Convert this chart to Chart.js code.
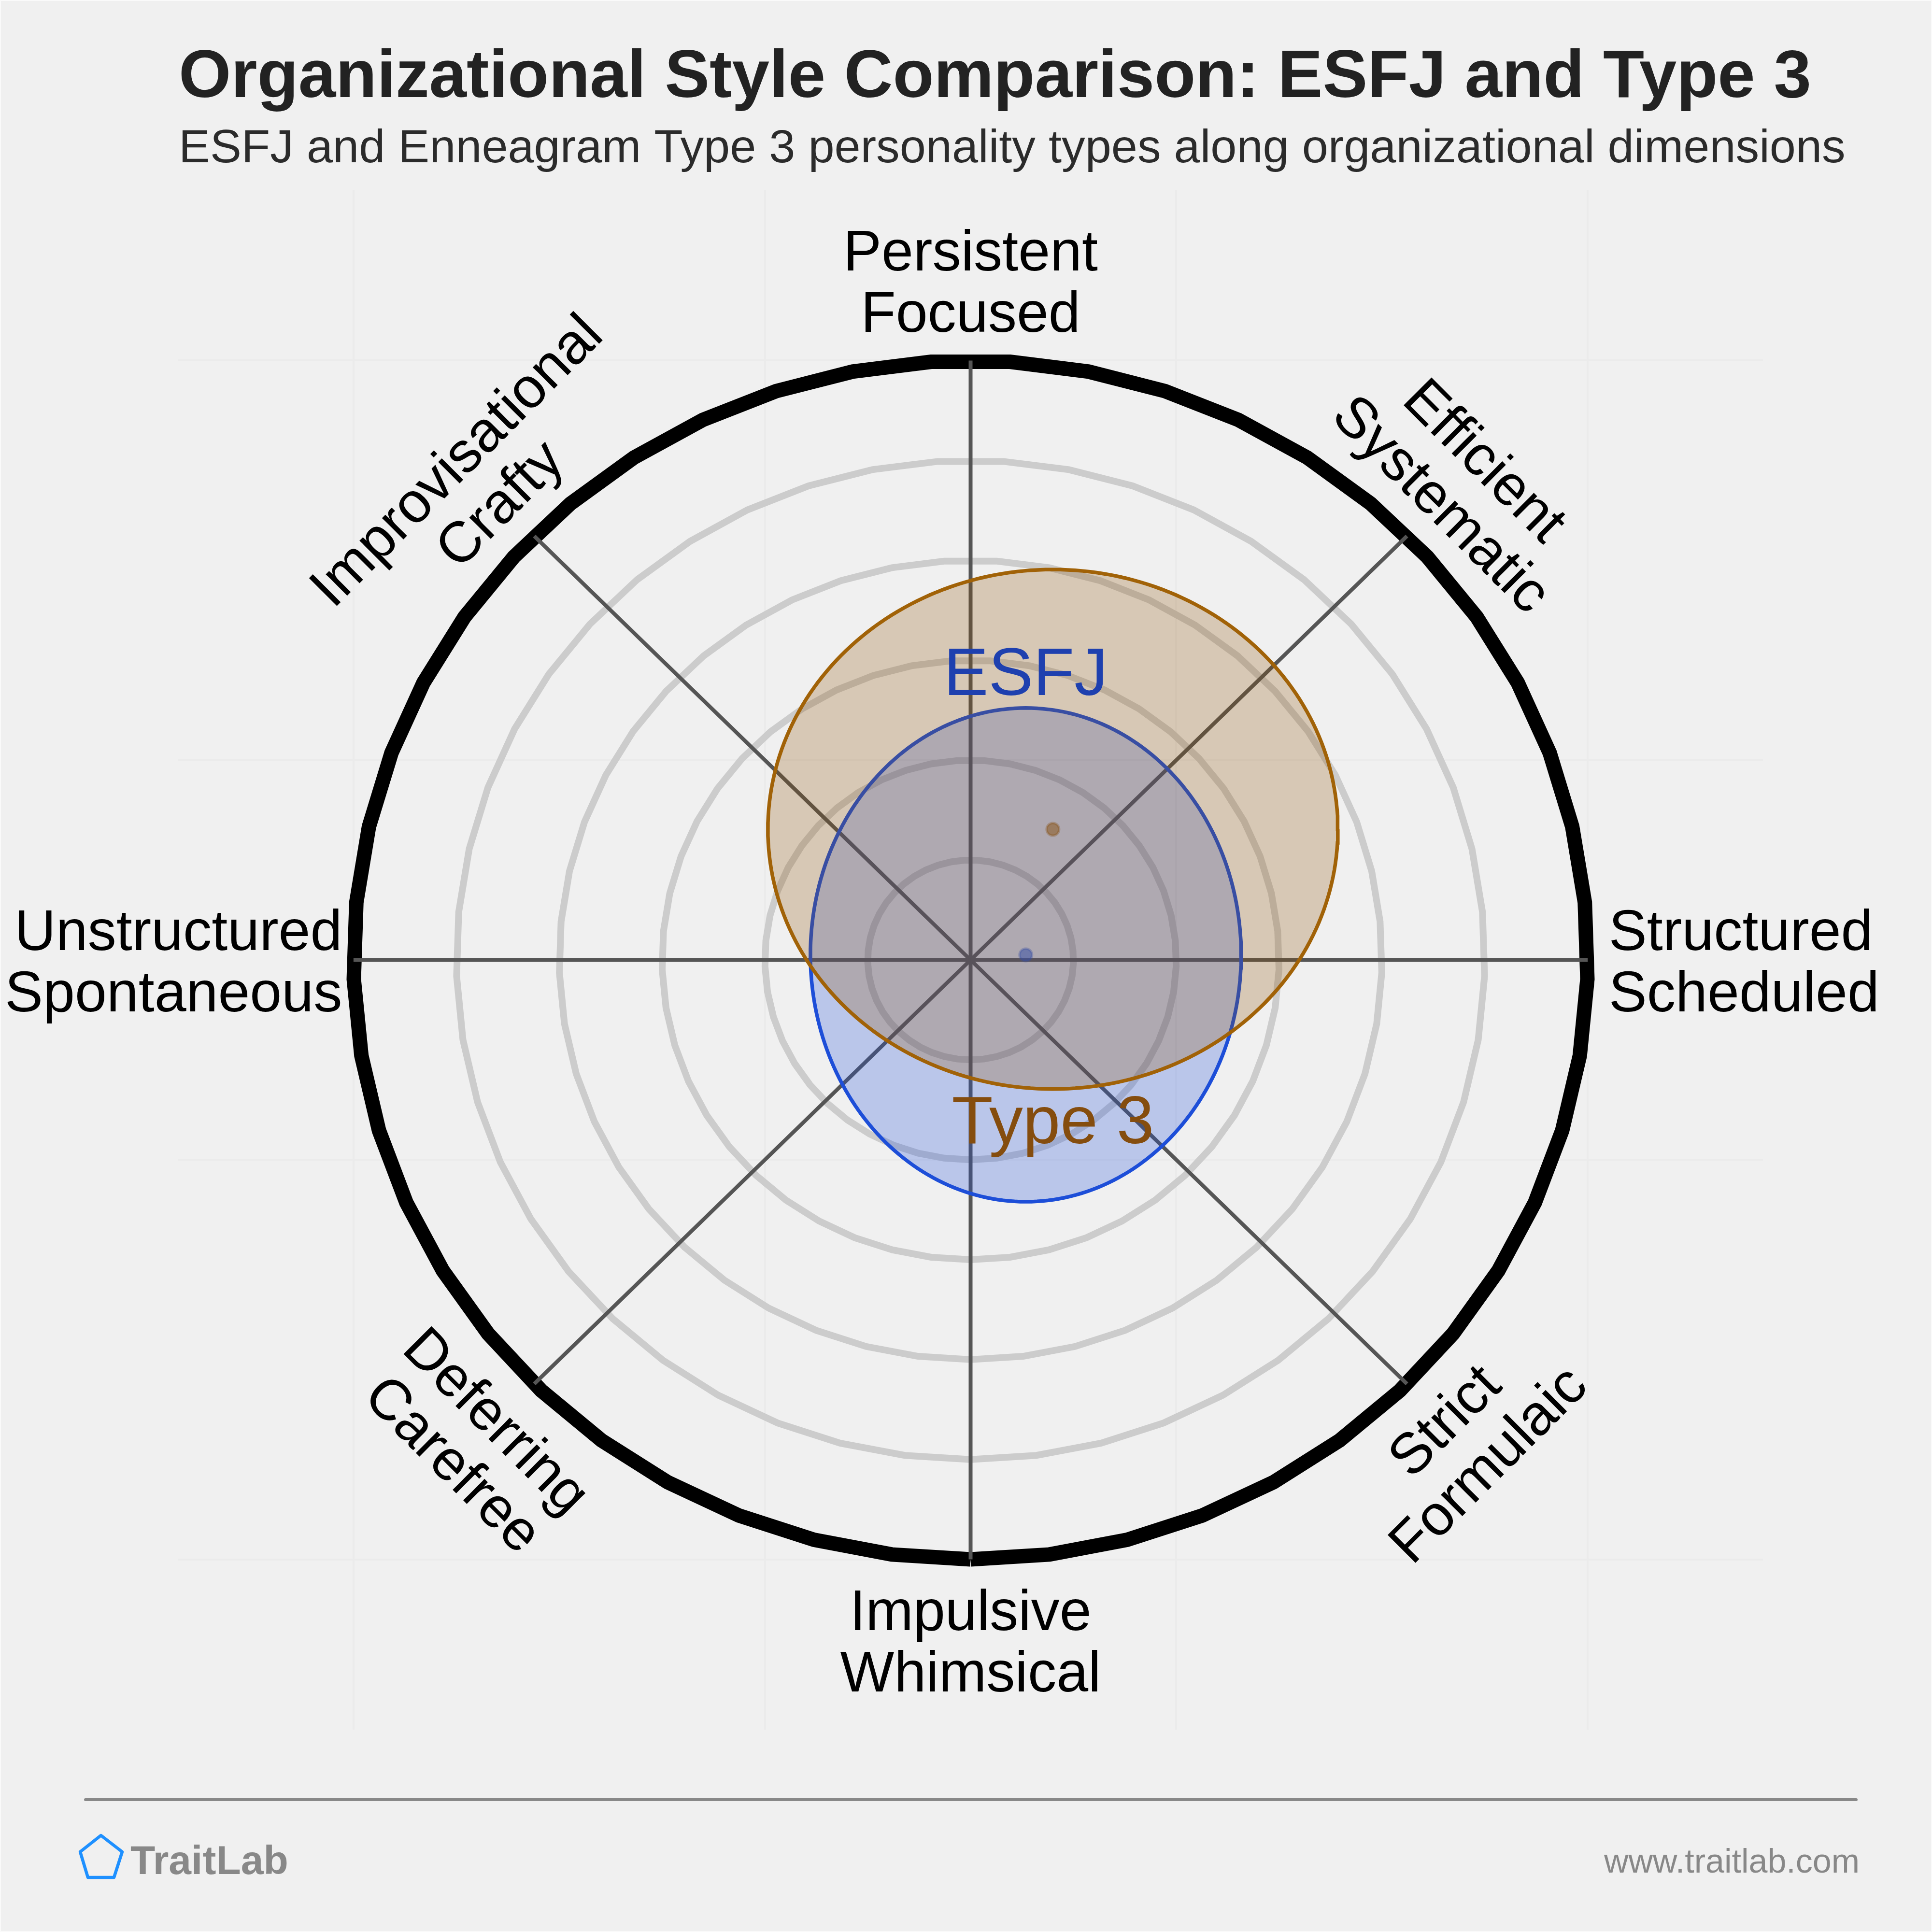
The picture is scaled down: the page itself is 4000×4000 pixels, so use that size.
<!DOCTYPE html>
<html><head><meta charset="utf-8">
<style>html,body{margin:0;padding:0;background:#f0f0f0}canvas{display:block}</style>
<script src="https://cdn.jsdelivr.net/npm/chart.js@4"></script>
</head><body>
<canvas id="c" width="4000" height="4000" style="width:4000px;height:4000px"></canvas>
<script>
const titleText = "Organizational Style Comparison: ESFJ and Type 3";
const subtitleText = "ESFJ and Enneagram Type 3 personality types along organizational dimensions";
const brandText = "TraitLab";
const siteText = "www.traitlab.com";
const categories = [
  ["Structured","Scheduled"],["Efficient","Systematic"],["Persistent","Focused"],["Improvisational","Crafty"],
  ["Unstructured","Spontaneous"],["Deferring","Carefree"],["Impulsive","Whimsical"],["Strict","Formulaic"]
];
const seriesNames = ["ESFJ","Type 3"];
const centerX = [0.5365, 0.80];
const centerY = [0.051, 1.308];
const spreadX = [2.094, 2.771];
const spreadY = [2.471, 2.60];
const ringLevels = [1,2,3,4,5,6];
const gridTicks = [-6,-2,2,6];
const AX = 7.704, AY = 7.704, RING_SIDES = 49, ELLIPSE_STEPS = 240;

const ringPts = r => Array.from({length:RING_SIDES+1},(_,i)=>{const a=-Math.PI/2+2*Math.PI*i/RING_SIDES;return {x:r*Math.cos(a),y:r*Math.sin(a)};});
const ellipsePts = i => Array.from({length:ELLIPSE_STEPS+1},(_,k)=>{const a=2*Math.PI*k/ELLIPSE_STEPS;return {x:centerX[i]+spreadX[i]*Math.cos(a),y:centerY[i]+spreadY[i]*Math.sin(a)};});

const datasets = [];
ringLevels.forEach(r=>datasets.push({label:"ring "+r,data:ringPts(r),showLine:true,pointRadius:0,borderColor:r===6?"#000000":"#cccccc",borderWidth:r===6?30:14,borderJoinStyle:"miter",borderCapStyle:"butt",order:r===6?90:100,clip:false}));
categories.forEach((c,i)=>{const a=i*Math.PI/4;datasets.push({label:c.join(" "),data:[{x:0,y:0},{x:6*Math.cos(a),y:6*Math.sin(a)}],showLine:true,pointRadius:0,borderColor:"#555555",borderWidth:8,order:80,clip:false});});
const strokes=["#1d4ed8","#a16207"], fills=["rgba(29,78,216,0.26)","rgba(140,80,5,0.25)"];
seriesNames.forEach((n,i)=>{
  datasets.push({label:n+" range",data:ellipsePts(i),showLine:true,pointRadius:0,borderColor:strokes[i],borderWidth:7.5,backgroundColor:fills[i],fill:"shape",order:70-i*10,clip:false});
});
seriesNames.forEach((n,i)=>{
  datasets.push({label:n,data:[{x:centerX[i],y:centerY[i]}],showLine:false,pointRadius:13,pointBorderWidth:5,pointBackgroundColor:i?"rgba(133,77,14,0.5)":"rgba(29,78,216,0.55)",pointBorderColor:i?"rgba(133,77,14,0.3)":"rgba(29,78,216,0.3)",order:i?10:65});
});

const txt=(ctx,s,x,y,font,color,align)=>{ctx.save();ctx.font=font;ctx.fillStyle=color;ctx.textAlign=align||"left";ctx.textBaseline="alphabetic";ctx.fillText(s,x,y);ctx.restore();};
const FONT='"Liberation Sans", Arial, sans-serif';
const LBL=118.5, LEAD=127;
const labelPos=[[6.205,0,"left",0],[4.805,4.797,"center",Math.PI/4],[0,6.80,"center",0],[-4.805,4.797,"center",-Math.PI/4],[-6.11,0,"right",0],[-4.805,-4.815,"center",Math.PI/4],[0,-6.81,"center",0],[4.805,-4.815,"center",-Math.PI/4]];
const overlay={id:"overlay",afterDraw(chart){
  const ctx=chart.ctx,X=chart.scales.x,Y=chart.scales.y;
  ctx.save();ctx.strokeStyle="#fafafa";ctx.lineWidth=4;ctx.strokeRect(0,0,4000,4000);ctx.restore();
  txt(ctx,titleText,370,201,"bold 139.3px "+FONT,"#222222");
  txt(ctx,subtitleText,370,336,"97.3px "+FONT,"#2b2b2b");
  categories.forEach((c,i)=>{
    const [dx,dy,al,rot]=labelPos[i];
    ctx.save();ctx.translate(X.getPixelForValue(dx),Y.getPixelForValue(dy));ctx.rotate(rot);
    ctx.font=LBL+"px "+FONT;ctx.fillStyle="#000000";ctx.textAlign=al;ctx.textBaseline="alphabetic";
    ctx.fillText(c[0],0,-LEAD/2+LBL*0.36);ctx.fillText(c[1],0,LEAD/2+LBL*0.36);ctx.restore();
  });
  txt(ctx,seriesNames[0],X.getPixelForValue(centerX[0]),1439,"139px "+FONT,"#1e40af","center");
  txt(ctx,seriesNames[1],X.getPixelForValue(centerX[1]),2367,"139.5px "+FONT,"#854d0e","center");
  ctx.save();ctx.strokeStyle="#888888";ctx.lineWidth=6;ctx.lineCap="round";ctx.beginPath();ctx.moveTo(177,3726);ctx.lineTo(3843,3726);ctx.stroke();
  ctx.strokeStyle="#1e90ff";ctx.lineWidth=6.5;ctx.lineJoin="round";ctx.beginPath();ctx.moveTo(209,3800);ctx.lineTo(253,3834);ctx.lineTo(236,3887);ctx.lineTo(182,3887);ctx.lineTo(166,3834);ctx.closePath();ctx.stroke();ctx.restore();
  txt(ctx,brandText,270,3880,"bold 84px "+FONT,"#888888");
  txt(ctx,siteText,3850,3877,"70px "+FONT,"#888888","right");
}};
const scaleOpt=(lim)=>({type:"linear",min:-lim,max:lim,border:{display:false},
  afterBuildTicks(a){a.ticks=gridTicks.map(v=>({value:v}));},
  grid:{color:"#ebebeb",lineWidth:4,drawTicks:false},ticks:{display:false}});
new Chart(document.getElementById("c"),{type:"scatter",data:{datasets},plugins:[overlay],options:{
  responsive:false,animation:false,devicePixelRatio:1,
  layout:{padding:{left:369,right:350,top:394,bottom:419}},
  plugins:{legend:{display:false},tooltip:{enabled:false}},
  scales:{x:scaleOpt(AX),y:scaleOpt(AY)}
}});
</script></body></html>
